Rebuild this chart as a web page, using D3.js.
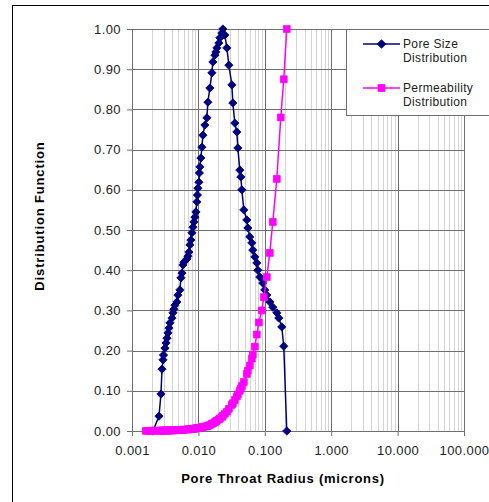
<!DOCTYPE html>
<html>
<head>
<meta charset="utf-8">
<script src="https://cdn.jsdelivr.net/npm/d3@7"></script>
<style>
  body { margin: 0; background: #fff; }
  svg { display: block; font-family: Arial, 'Liberation Sans', sans-serif; }
</style>
</head>
<body>
<svg width="489" height="502"></svg>
<script>
var width = 489;
var height = 502;

// pore size distribution (blue diamonds)
var poreRadius = [
  0.00207, 0.00255, 0.00273, 0.00283, 0.00293, 0.00298, 0.00314, 0.00325, 0.00336, 0.00348,
  0.00360, 0.00373, 0.00400, 0.00414, 0.00428, 0.00443, 0.00475, 0.00492, 0.00527, 0.00546,
  0.00565, 0.00585, 0.00605, 0.00672, 0.00695, 0.00720, 0.00745, 0.00771, 0.00798, 0.00827,
  0.00856, 0.00886, 0.00917, 0.00949, 0.00966, 0.00983, 0.01018, 0.01035, 0.01054, 0.01090,
  0.01129, 0.01169, 0.01252, 0.01342, 0.01389, 0.01489, 0.01596, 0.01652, 0.01771, 0.01833,
  0.01898, 0.02034, 0.02106, 0.02257, 0.02336,
  0.02503, 0.02683, 0.02875, 0.03190, 0.03303, 0.03540, 0.03794, 0.03926, 0.04208, 0.04356,
  0.04510, 0.04833, 0.05362, 0.05552, 0.05950, 0.06377, 0.06601, 0.07074, 0.07581, 0.07848,
  0.08410, 0.09330, 0.1000, 0.1072, 0.1189, 0.1319, 0.1516, 0.1624, 0.1801, 0.1931, 0.2142
];
var poreFraction = [
  0.000, 0.037, 0.092, 0.154, 0.177, 0.189, 0.206, 0.219, 0.231, 0.244,
  0.256, 0.269, 0.281, 0.294, 0.303, 0.313, 0.321, 0.338, 0.351, 0.381,
  0.393, 0.413, 0.420, 0.428, 0.435, 0.445, 0.463, 0.475, 0.493, 0.507,
  0.520, 0.532, 0.545, 0.570, 0.587, 0.604, 0.619, 0.642, 0.657, 0.679,
  0.706, 0.736, 0.761, 0.779, 0.818, 0.853, 0.891, 0.918, 0.935, 0.943,
  0.953, 0.965, 0.978, 0.990, 1.000,
  0.985, 0.953, 0.910, 0.861, 0.816, 0.766, 0.744, 0.704, 0.649, 0.632,
  0.600, 0.550, 0.525, 0.505, 0.483, 0.468, 0.450, 0.433, 0.418, 0.400,
  0.383, 0.368, 0.351, 0.338, 0.321, 0.308, 0.294, 0.281, 0.259, 0.211, 0.000
];

// permeability distribution (magenta squares)
var permRadius = [
  0.00162, 0.00174, 0.00187, 0.00207, 0.00230, 0.00255, 0.00273, 0.00283, 0.00293, 0.00303,
  0.00314, 0.00325, 0.00336, 0.00348, 0.00360, 0.00373, 0.00400, 0.00414, 0.00428, 0.00443,
  0.00475, 0.00492, 0.00527, 0.00546, 0.00565, 0.00585, 0.00605, 0.00672, 0.00695, 0.00720,
  0.00745, 0.00771, 0.00798, 0.00827, 0.00856, 0.00886, 0.00917, 0.00949, 0.00983, 0.01018,
  0.01054, 0.01090, 0.01129, 0.01169, 0.01252, 0.01342, 0.01389, 0.01489, 0.01596, 0.01652,
  0.01771, 0.01833, 0.01898, 0.02034, 0.02106, 0.02257, 0.02336, 0.02503, 0.02683, 0.02875,
  0.03190, 0.03303, 0.03540, 0.03794, 0.03926, 0.04208, 0.04356, 0.04510, 0.04833, 0.05362,
  0.05552, 0.05950, 0.06377, 0.06601, 0.07074,
  0.0758, 0.0813, 0.0901, 0.0966, 0.1072, 0.1189, 0.1319, 0.1516, 0.1740, 0.1931, 0.2142
];
var permFraction = [
  0.0003, 0.0004, 0.0005, 0.0006, 0.0007, 0.0008, 0.0009, 0.0010, 0.0010, 0.0011,
  0.0011, 0.0012, 0.0012, 0.0013, 0.0014, 0.0014, 0.0016, 0.0017, 0.0018, 0.0019,
  0.0021, 0.0022, 0.0025, 0.0027, 0.0028, 0.0030, 0.0032, 0.0038, 0.0040, 0.0043,
  0.0045, 0.0048, 0.0051, 0.0054, 0.0057, 0.0060, 0.0064, 0.0068, 0.0072, 0.0076,
  0.0080, 0.0085, 0.0090, 0.0095, 0.011, 0.012, 0.013, 0.015, 0.018, 0.019,
  0.022, 0.024, 0.026, 0.029, 0.031, 0.035, 0.038, 0.043, 0.048, 0.055,
  0.065, 0.069, 0.077, 0.086, 0.091, 0.100, 0.106, 0.112, 0.122, 0.142,
  0.150, 0.163, 0.180, 0.190, 0.210,
  0.240, 0.270, 0.300, 0.333, 0.383, 0.443, 0.520, 0.627, 0.780, 0.875, 1.000
];

var xTicks = [0.001, 0.01, 0.1, 1, 10, 100];
var yTicks = [0, 0.1, 0.2, 0.3, 0.4, 0.5, 0.6, 0.7, 0.8, 0.9, 1.0];
var seriesNames = [['Pore Size', 'Distribution'], ['Permeability', 'Distribution']];

var plotLeft = 132, plotRight = 464, plotTop = 29, plotBottom = 431;

var xScale = d3.scaleLog()
  .domain([0.001, 100])
  .range([plotLeft, plotRight]);

var yScale = d3.scaleLinear()
  .domain([0, 1])
  .range([plotBottom, plotTop]);

var svg = d3.select('svg');

// outer chart border
svg.append('rect')
  .attr('x', 12.5)
  .attr('y', 5.5)
  .attr('width', 600)
  .attr('height', 600)
  .attr('fill', '#fff')
  .attr('stroke', '#000');

// minor vertical grid
var minor = [];
for (var e = -3; e < 2; e++) {
  for (var k = 2; k < 10; k++) minor.push(k * Math.pow(10, e));
}
svg.append('g')
  .selectAll('line')
  .data(minor)
  .enter()
  .append('line')
  .attr('x1', d => Math.round(xScale(d)) + 0.5)
  .attr('x2', d => Math.round(xScale(d)) + 0.5)
  .attr('y1', plotTop)
  .attr('y2', plotBottom)
  .attr('stroke', '#d4d4d4');

// major vertical grid
svg.append('g')
  .selectAll('line')
  .data(xTicks)
  .enter()
  .append('line')
  .attr('x1', d => Math.round(xScale(d)) + 0.5)
  .attr('x2', d => Math.round(xScale(d)) + 0.5)
  .attr('y1', plotTop)
  .attr('y2', plotBottom)
  .attr('stroke', '#6e6e6e');

// horizontal grid
svg.append('g')
  .selectAll('line')
  .data(yTicks)
  .enter()
  .append('line')
  .attr('x1', plotLeft)
  .attr('x2', plotRight)
  .attr('y1', d => Math.round(yScale(d)) + 0.5)
  .attr('y2', d => Math.round(yScale(d)) + 0.5)
  .attr('stroke', '#6e6e6e');

var xAxis = d3.axisBottom(xScale)
  .tickValues(xTicks)
  .tickFormat(d3.format('.3f'))
  .tickSize(5)
  .tickSizeOuter(0);

var yAxis = d3.axisLeft(yScale)
  .tickValues(yTicks)
  .tickFormat(d3.format('.2f'))
  .tickSize(5)
  .tickSizeOuter(0);

var gx = svg.append('g')
  .attr('transform', 'translate(0,' + plotBottom + ')')
  .call(xAxis);

var gy = svg.append('g')
  .attr('transform', 'translate(' + plotLeft + ',0)')
  .call(yAxis);

[gx, gy].forEach(function(g) {
  g.select('.domain').attr('stroke', '#6e6e6e');
  g.selectAll('.tick line').attr('stroke', '#6e6e6e');
  g.selectAll('.tick text')
    .attr('fill', '#222')
    .style('font-size', '13px')
    .style('letter-spacing', '0.4px')
    .style('font-family', 'Arial, "Liberation Sans", sans-serif');
});
gx.selectAll('.tick text').attr('dy', '1.2em');
gy.selectAll('.tick text').attr('x', -11);

var line = d3.line()
  .x(d => xScale(d[0]))
  .y(d => yScale(d[1]));

var poreData = d3.zip(poreRadius, poreFraction);
var permData = d3.zip(permRadius, permFraction);

var navy = '#000080';
var magenta = '#ff00ff';

var diamond = d3.symbol().type(d3.symbolSquare).size(34);
var square = d3.symbol().type(d3.symbolSquare).size(46);

svg.append('path')
  .datum(poreData)
  .attr('d', line)
  .attr('fill', 'none')
  .attr('stroke', navy)
  .attr('stroke-width', 1.5);

svg.append('g')
  .selectAll('path')
  .data(poreData)
  .enter()
  .append('path')
  .attr('d', diamond)
  .attr('transform', d => 'translate(' + xScale(d[0]) + ',' + yScale(d[1]) + ') rotate(45)')
  .attr('fill', navy)
  .attr('stroke', navy)
  .attr('stroke-width', 0.8);

svg.append('path')
  .datum(permData)
  .attr('d', line)
  .attr('fill', 'none')
  .attr('stroke', magenta)
  .attr('stroke-width', 1.5);

svg.append('g')
  .selectAll('path')
  .data(permData)
  .enter()
  .append('path')
  .attr('d', square)
  .attr('transform', d => 'translate(' + xScale(d[0]) + ',' + yScale(d[1]) + ')')
  .attr('fill', magenta)
  .attr('stroke', magenta)
  .attr('stroke-width', 0.8);

// axis titles
svg.append('text')
  .attr('x', 283)
  .attr('y', 483)
  .style('text-anchor', 'middle')
  .style('font-size', '13px')
  .style('letter-spacing', '0.75px')
  .style('font-weight', 'bold')
  .attr('fill', '#000')
  .text('Pore Throat Radius (microns)');

svg.append('text')
  .attr('transform', 'translate(44,216) rotate(-90)')
  .style('text-anchor', 'middle')
  .style('font-size', '13px')
  .style('letter-spacing', '0.85px')
  .style('font-weight', 'bold')
  .attr('fill', '#000')
  .text('Distribution Function');

// legend
var legend = svg.append('g');
legend.append('rect')
  .attr('x', 346.5)
  .attr('y', 29.5)
  .attr('width', 200)
  .attr('height', 86)
  .attr('fill', '#fff')
  .attr('stroke', '#6e6e6e');

var legendY = [44, 88];
var legendColors = [navy, magenta];
var legendMarks = [diamond, square];
var legendRot = [' rotate(45)', ''];

legendY.forEach(function(y, i) {
  legend.append('line')
    .attr('x1', 363)
    .attr('x2', 400)
    .attr('y1', y)
    .attr('y2', y)
    .attr('stroke', legendColors[i])
    .attr('stroke-width', 1.5);
  legend.append('path')
    .attr('d', legendMarks[i])
    .attr('transform', 'translate(381.5,' + y + ')' + legendRot[i])
    .attr('fill', legendColors[i])
    .attr('stroke', legendColors[i]);
  legend.append('text')
    .attr('x', 403)
    .attr('y', y + 4)
    .style('font-size', '12px')
    .style('letter-spacing', '0.35px')
    .attr('fill', '#222')
    .text(seriesNames[i][0]);
  legend.append('text')
    .attr('x', 403)
    .attr('y', y + 18)
    .style('font-size', '12px')
    .style('letter-spacing', '0.35px')
    .attr('fill', '#222')
    .text(seriesNames[i][1]);
});
</script>
</body>
</html>
